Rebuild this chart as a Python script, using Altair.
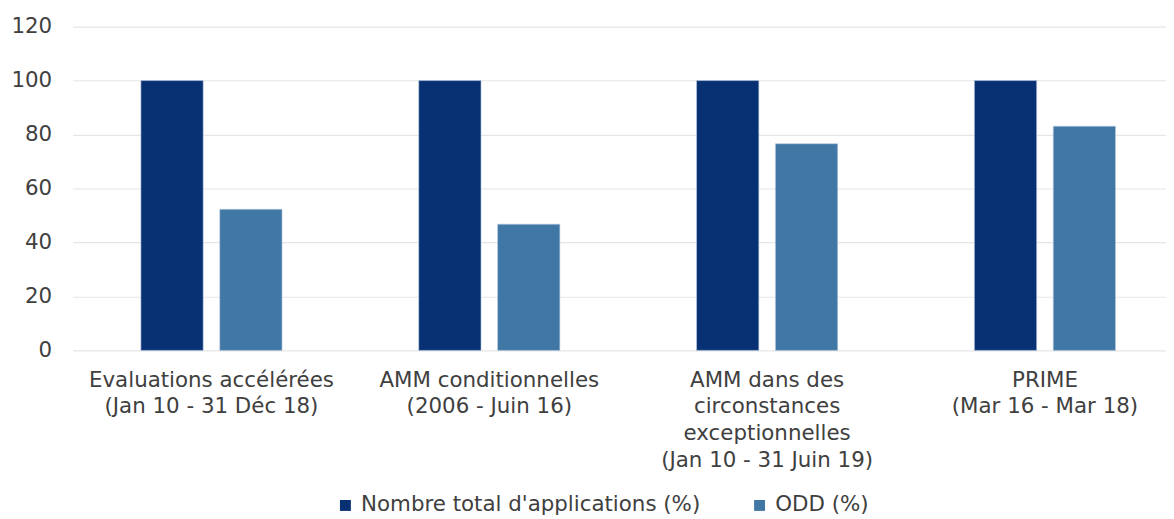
import altair as alt
import pandas as pd

categories = [
    "Evaluations accélérées\n(Jan 10 - 31 Déc 18)",
    "AMM conditionnelles\n(2006 - Juin 16)",
    "AMM dans des\ncirconstances\nexceptionnelles\n(Jan 10 - 31 Juin 19)",
    "PRIME\n(Mar 16 - Mar 18)",
]
series = ["Nombre total d'applications (%)", "ODD (%)"]
total_values = [100, 100, 100, 100]
odd_values = [52.3, 46.8, 76.6, 83.1]
colors = ["#083174", "#4177a4"]
y_ticks = [0, 20, 40, 60, 80, 100, 120]

rows = []
for c, t, o in zip(categories, total_values, odd_values):
    rows.append({"cat": c, "serie": series[0], "val": t})
    rows.append({"cat": c, "serie": series[1], "val": o})
df = pd.DataFrame(rows)

font = "DejaVu Sans"
txt = "#404040"
fs = 21.5

chart = (
    alt.Chart(df)
    .mark_bar(stroke="#b9cde3", strokeWidth=0.6)
    .encode(
        x=alt.X(
            "cat:N",
            sort=categories,
            title=None,
            scale=alt.Scale(paddingInner=0.492, paddingOuter=0.246, range=[0, 1119]),
            axis=alt.Axis(
                labelAngle=0,
                labelExpr="split(datum.value, '\\n')",
                labelFont=font,
                labelFontSize=fs,
                labelColor=txt,
                labelLineHeight=27,
                labelPadding=19,
                labelBaseline="top",
                labelLimit=500,
                domain=False,
                ticks=False,
                grid=False,
            ),
        ),
        xOffset=alt.XOffset(
            "serie:N",
            sort=series,
            scale=alt.Scale(paddingInner=0.21, paddingOuter=0),
        ),
        y=alt.Y(
            "val:Q",
            title=None,
            scale=alt.Scale(domain=[0, 120]),
            axis=alt.Axis(
                values=y_ticks,
                labelFont=font,
                labelFontSize=fs,
                labelColor=txt,
                labelPadding=21,
                domain=False,
                ticks=False,
                gridColor="#e6e6e6",
                gridWidth=1.2,
            ),
        ),
        color=alt.Color(
            "serie:N",
            sort=series,
            scale=alt.Scale(domain=series, range=colors),
            legend=alt.Legend(
                title=None,
                orient="none",
                legendX=264,
                legendY=471,
                direction="horizontal",
                symbolType="square",
                symbolSize=121,
                symbolStrokeWidth=0,
                labelFont=font,
                labelFontSize=fs,
                labelColor=txt,
                labelLimit=600,
                columnPadding=48,
                symbolOffset=0,
                labelOffset=5,
            ),
        ),
    )
    .properties(
        width=1101,
        height=326,
        background="white",
        autosize=alt.AutoSizeParams(type="none"),
        padding={"left": 65, "top": 17, "right": 0, "bottom": 167},
    )
    .configure_view(stroke=None, strokeWidth=0)
    .configure_axisX(grid=False, domain=False)
    .configure_axisY(domain=False)
)

chart.save("out.html", embed_options={"renderer": "svg", "actions": False})
